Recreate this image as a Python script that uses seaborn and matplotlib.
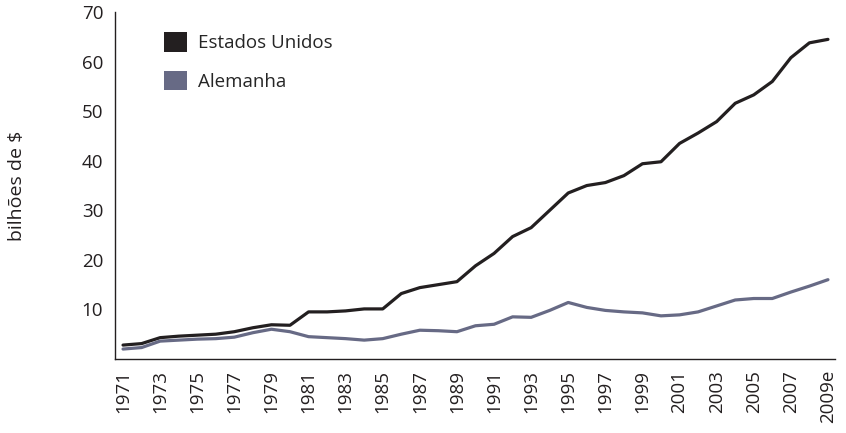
import matplotlib
matplotlib.use("Agg")
import matplotlib.pyplot as plt
from matplotlib.patches import Patch
import seaborn as sns
import pandas as pd

sns.set_theme(style="white")
plt.rcParams['font.family'] = ['Open Sans', 'DejaVu Sans']

years = list(range(1971, 2010))
year_labels = [str(y) if (y - 1971) % 2 == 0 else "" for y in years]
year_labels[-1] = "2009e"

# billions of $ per year
estados_unidos = [2.8, 3.1, 4.3, 4.6, 4.8, 5.0, 5.5, 6.3, 6.9, 6.8,
                  9.5, 9.5, 9.7, 10.1, 10.1, 13.2, 14.4, 15.0, 15.6, 18.8,
                  21.3, 24.7, 26.5, 30.0, 33.5, 35.0, 35.6, 37.0, 39.4, 39.8,
                  43.5, 45.6, 47.9, 51.6, 53.3, 56.0, 60.8, 63.8, 64.5]
alemanha = [2.0, 2.3, 3.6, 3.8, 4.0, 4.1, 4.4, 5.3, 6.0, 5.5,
            4.5, 4.3, 4.1, 3.8, 4.1, 5.0, 5.8, 5.7, 5.5, 6.7,
            7.0, 8.5, 8.4, 9.8, 11.4, 10.4, 9.8, 9.5, 9.3, 8.7,
            8.9, 9.5, 10.7, 11.9, 12.2, 12.2, 13.5, 14.7, 16.0]

series = ["Estados Unidos", "Alemanha"]
colors = {"Estados Unidos": "#231f20", "Alemanha": "#676a85"}

df = pd.DataFrame({"ano": years * 2,
                   "valor": estados_unidos + alemanha,
                   "pais": [series[0]] * len(years) + [series[1]] * len(years)})

fig = plt.figure(figsize=(8.46, 4.33), dpi=100)
ax = fig.add_axes([0.136, 0.171, 0.851, 0.801])
sns.lineplot(data=df, x="ano", y="valor", hue="pais", palette=colors,
             linewidth=2.3, legend=False, ax=ax,
             solid_joinstyle="round", solid_capstyle="round")

ax.set_xlim(1970.57, 2009.38)
ax.set_ylim(0, 70)
ax.set_yticks([10, 20, 30, 40, 50, 60, 70])
ax.set_xticks(years)
ax.set_xticklabels(year_labels, rotation=90)
ax.tick_params(axis="both", direction="out", length=5, width=1,
               color="#231f20", labelsize=13.5, labelcolor="#231f20")
ax.tick_params(axis="x", pad=3)
for s in ["top", "right"]:
    ax.spines[s].set_visible(False)
for s in ["left", "bottom"]:
    ax.spines[s].set_color("#231f20")
    ax.spines[s].set_linewidth(1)

ax.set_xlabel("")
ax.set_ylabel("bilhões de $", fontsize=14, color="#231f20", labelpad=40)

handles = [Patch(facecolor=colors[s], edgecolor="none", label=s) for s in series]
ax.legend(handles=handles, loc="upper left", bbox_to_anchor=(0.045, 0.99),
          frameon=False, fontsize=13.5, handlelength=1.2, handleheight=1.2,
          labelspacing=1.0, handletextpad=0.6)

fig.savefig("out.png", dpi=100)
